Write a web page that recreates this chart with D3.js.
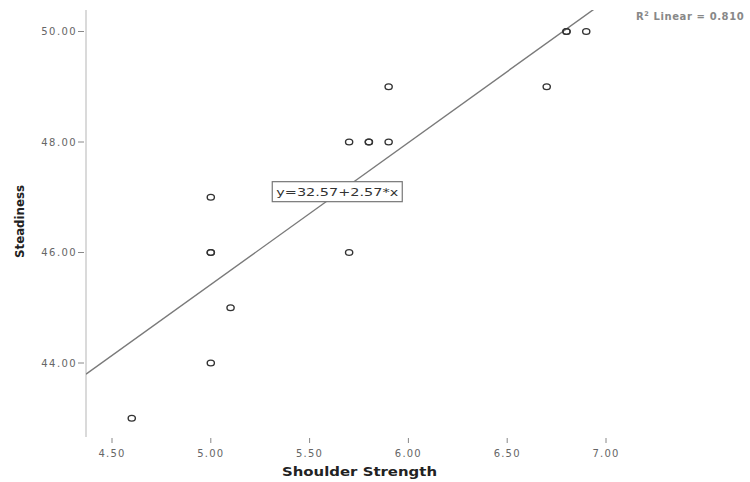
<!DOCTYPE html>
<html>
<head>
<meta charset="utf-8">
<script src="https://cdn.jsdelivr.net/npm/d3@7"></script>
<style>
  body { margin: 0; background: #fff; }
  svg { display: block; }
  text { font-family: "DejaVu Sans", sans-serif; }
</style>
</head>
<body>
<svg id="chart" width="750" height="482"></svg>
<script>
// shoulder strength (x) vs steadiness (y), duplicates overlap
var strength = [4.6, 5.0, 5.0, 5.0, 5.0, 5.1, 5.7, 5.7, 5.8, 5.8, 5.9, 5.9, 6.7, 6.8, 6.8, 6.9];
var steadiness = [43, 44, 46, 46, 47, 45, 46, 48, 48, 48, 48, 49, 49, 50, 50, 50];
var xTicks = [4.5, 5.0, 5.5, 6.0, 6.5, 7.0];
var yTicks = [44, 46, 48, 50];
var intercept = 32.57, slope = 2.57;
var r2 = 0.810;

var svg = d3.select("#chart");
// plot box (note: "top" is taken by window.top)
var plotLeft = 86, plotTop = 10, plotBottom = 437, plotRight = 640;

var x = d3.scaleLinear().domain([4.5, 7.0]).range([112, 606]);
var y = d3.scaleLinear().domain([44, 50]).range([363, 31.5]);

// y axis line (light grey)
svg.append("line")
    .attr("x1", plotLeft).attr("x2", plotLeft)
    .attr("y1", plotTop).attr("y2", plotBottom)
    .attr("stroke", "#dadada").attr("stroke-width", 2);

// y ticks
var yg = svg.append("g");
yTicks.forEach(function (t) {
    yg.append("text")
        .attr("x", 77).attr("y", y(t) + 3.5)
        .attr("text-anchor", "end")
        .attr("font-size", 10)
        .attr("letter-spacing", 1.4)
        .attr("fill", "#666")
        .text(d3.format(".2f")(t));
    yg.append("line")
        .attr("x1", 78).attr("x2", 84)
        .attr("y1", y(t)).attr("y2", y(t))
        .attr("stroke", "#888").attr("stroke-width", 1);
});

// x ticks
var xg = svg.append("g");
xTicks.forEach(function (t) {
    xg.append("line")
        .attr("x1", x(t)).attr("x2", x(t))
        .attr("y1", 438).attr("y2", 443)
        .attr("stroke", "#888").attr("stroke-width", 1);
    xg.append("text")
        .attr("x", x(t)).attr("y", 457)
        .attr("text-anchor", "middle")
        .attr("font-size", 10)
        .attr("letter-spacing", 1.2)
        .attr("fill", "#666")
        .text(d3.format(".2f")(t));
});

// axis titles
svg.append("text")
    .attr("x", 359.5).attr("y", 476)
    .attr("text-anchor", "middle")
    .attr("font-size", 13).attr("font-weight", "bold")
    .attr("fill", "#222")
    .attr("textLength", 155).attr("lengthAdjust", "spacingAndGlyphs")
    .text("Shoulder Strength");

svg.append("text")
    .attr("transform", "translate(24,221.5) rotate(-90)")
    .attr("text-anchor", "middle")
    .attr("font-size", 13).attr("font-weight", "bold")
    .attr("fill", "#222")
    .attr("textLength", 73).attr("lengthAdjust", "spacingAndGlyphs")
    .text("Steadiness");

// fit line, clipped to plot area
svg.append("clipPath").attr("id", "plotclip")
    .append("rect")
    .attr("x", plotLeft).attr("y", plotTop)
    .attr("width", plotRight - plotLeft).attr("height", plotBottom - plotTop);

var xLo = x.invert(plotLeft), xHi = x.invert(plotRight);
var fit = [xLo, xHi].map(function (v) { return [v, intercept + slope * v]; });
svg.append("path")
    .attr("clip-path", "url(#plotclip)")
    .attr("d", d3.line().x(function (d) { return x(d[0]); }).y(function (d) { return y(d[1]); })(fit))
    .attr("fill", "none")
    .attr("stroke", "#7a7a7a").attr("stroke-width", 1.4);

// points
var pts = strength.map(function (s, i) { return { s: s, v: steadiness[i] }; });
svg.append("g").selectAll("ellipse")
    .data(pts)
    .enter()
    .append("ellipse")
    .attr("cx", function (d) { return x(d.s); })
    .attr("cy", function (d) { return y(d.v); })
    .attr("rx", 3.6).attr("ry", 2.9)
    .attr("fill", "none")
    .attr("stroke", "#333").attr("stroke-width", 1.4);

// equation label on the line
var labelX = 5.64;
var lx = x(labelX), ly = y(intercept + slope * labelX) - 2;
var eq = svg.append("g").attr("transform", "translate(" + lx + "," + ly + ")");
eq.append("rect")
    .attr("x", -65).attr("y", -10)
    .attr("width", 130).attr("height", 20)
    .attr("fill", "#fff")
    .attr("stroke", "#777").attr("stroke-width", 1.2);
eq.append("text")
    .attr("x", 0).attr("y", 4)
    .attr("text-anchor", "middle")
    .attr("font-size", 11)
    .attr("fill", "#333")
    .attr("textLength", 122).attr("lengthAdjust", "spacingAndGlyphs")
    .text("y=" + intercept.toFixed(2) + "+" + slope.toFixed(2) + "*x");

// R squared note
var rt = svg.append("text")
    .attr("x", 636).attr("y", 20)
    .attr("font-size", 10)
    .attr("font-weight", "bold")
    .attr("letter-spacing", 0.6)
    .attr("fill", "#888");
rt.append("tspan").text("R");
rt.append("tspan").attr("dy", -4).attr("font-size", 6.5).text("2");
rt.append("tspan").attr("dy", 4).text(" Linear = " + r2.toFixed(3));
</script>
</body>
</html>
